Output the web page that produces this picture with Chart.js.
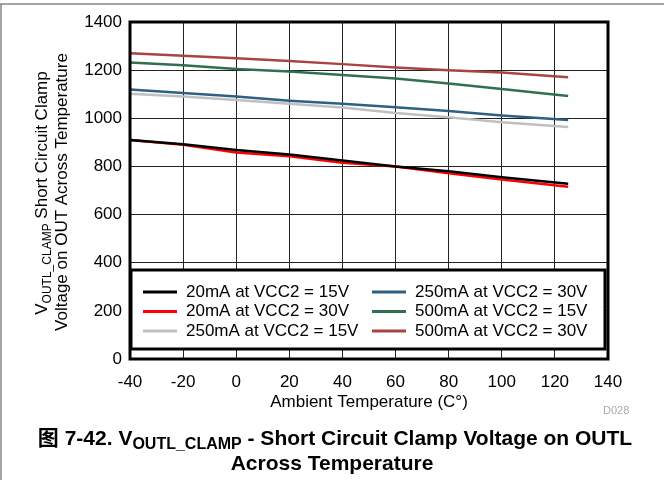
<!DOCTYPE html>
<html>
<head>
<meta charset="utf-8">
<script src="https://cdn.jsdelivr.net/npm/chart.js@4"></script>
<style>
body { margin: 0; background: #fff; }
</style>
</head>
<body>
<canvas id="c" width="664" height="480"></canvas>
<script>
// temperatures (C) and clamp voltage (mV)
const temps = [-40, -20, 0, 20, 40, 60, 80, 100, 125];
const ma20v15 = [910, 892, 868, 850, 825, 800, 780, 755, 728];
const ma20v30 = [910, 890, 858, 842, 815, 800, 772, 746, 716];
const ma250v15 = [1102, 1090, 1076, 1060, 1045, 1022, 1004, 984, 964];
const ma250v30 = [1120, 1105, 1090, 1073, 1060, 1046, 1030, 1012, 993];
const ma500v15 = [1232, 1220, 1205, 1194, 1180, 1165, 1145, 1122, 1093];
const ma500v30 = [1270, 1260, 1249, 1238, 1225, 1211, 1200, 1190, 1170];
const seriesLabels = [
  '20mA at VCC2 = 15V', '20mA at VCC2 = 30V', '250mA at VCC2 = 15V',
  '250mA at VCC2 = 30V', '500mA at VCC2 = 15V', '500mA at VCC2 = 30V'
];
const seriesValues = [ma20v15, ma20v30, ma250v15, ma250v30, ma500v15, ma500v30];
const colors = ['#000000', '#ff0000', '#c0c0c0', '#2e6083', '#2f7050', '#a84444'];

const FONT = '"Liberation Sans", Arial, "Noto Sans CJK SC", sans-serif';
Chart.defaults.font.family = FONT;
Chart.defaults.color = '#000';

// draws pieces of text (with subscripts) side by side, centred on cx
function richText(ctx, parts, cx, y) {
  let total = 0;
  parts.forEach(p => { ctx.font = p.font; total += ctx.measureText(p.t).width; });
  let x = cx - total / 2;
  parts.forEach(p => {
    ctx.font = p.font;
    ctx.fillText(p.t, x, y + (p.dy || 0));
    x += ctx.measureText(p.t).width;
  });
}

const extras = {
  id: 'extras',
  beforeDraw(chart) {
    const ctx = chart.ctx;
    ctx.save();
    ctx.strokeStyle = '#888';
    ctx.lineWidth = 1.5;
    ctx.beginPath();
    ctx.moveTo(0, 4); ctx.lineTo(664, 4);
    ctx.moveTo(1, 4); ctx.lineTo(1, 480);
    ctx.stroke();
    ctx.restore();
  },
  afterDatasetsDraw(chart) {
    const ctx = chart.ctx;
    const a = chart.chartArea;
    ctx.save();
    // legend box inside the plot
    const lx = a.left + 1, ly = a.bottom - 89, lw = a.right - 3 - lx, lh = 79;
    ctx.fillStyle = '#fff';
    ctx.fillRect(lx, ly, lw, lh);
    ctx.strokeStyle = '#000';
    ctx.lineWidth = 3;
    ctx.strokeRect(lx, ly, lw, lh);
    ctx.font = '17px ' + FONT;
    ctx.textBaseline = 'middle';
    ctx.textAlign = 'left';
    chart.data.datasets.forEach((ds, i) => {
      const col = Math.floor(i / 3), row = i % 3;
      const x0 = lx + 12 + col * 229;
      const y0 = ly + 22 + row * 19.5;
      ctx.strokeStyle = ds.borderColor;
      ctx.lineWidth = 3;
      ctx.beginPath();
      ctx.moveTo(x0, y0); ctx.lineTo(x0 + 34, y0);
      ctx.stroke();
      ctx.fillStyle = '#000';
      ctx.fillText(ds.label, x0 + 43, y0);
    });
    // plot frame
    ctx.strokeStyle = '#000';
    ctx.lineWidth = 3;
    ctx.strokeRect(a.left, a.top, a.right - a.left, a.bottom - a.top);
    ctx.restore();
  },
  afterDraw(chart) {
    const ctx = chart.ctx;
    const a = chart.chartArea;
    ctx.save();
    ctx.fillStyle = '#000';
    ctx.textAlign = 'left';
    ctx.textBaseline = 'alphabetic';
    // y axis title, two rotated lines
    const f17 = '17px ' + FONT, f12 = '12px ' + FONT;
    ctx.save();
    ctx.translate(47, 193);
    ctx.rotate(-Math.PI / 2);
    richText(ctx, [
      { t: 'V', font: f17 },
      { t: 'OUTL_CLAMP', font: f12, dy: 4 },
      { t: ' Short Circuit Clamp', font: f17 }
    ], 0, 0);
    ctx.restore();
    ctx.save();
    ctx.translate(67, 192);
    ctx.rotate(-Math.PI / 2);
    richText(ctx, [{ t: 'Voltage on OUT Across Temperature', font: f17 }], 0, 0);
    ctx.restore();
    // x axis title
    ctx.textBaseline = 'middle';
    richText(ctx, [{ t: 'Ambient Temperature (C\u00b0)', font: f17 }], (a.left + a.right) / 2, 402);
    ctx.fillStyle = '#aaa';
    ctx.font = '11px ' + FONT;
    ctx.fillText('D028', 603, 411);
    // caption
    ctx.fillStyle = '#000';
    ctx.textBaseline = 'alphabetic';
    const b21 = 'bold 21px ' + FONT, b16 = 'bold 16px ' + FONT;
    richText(ctx, [
      { t: '\u56fe 7-42. V', font: b21 },
      { t: 'OUTL_CLAMP', font: b16, dy: 4 },
      { t: ' - Short Circuit Clamp Voltage on OUTL', font: b21 }
    ], 335, 445);
    richText(ctx, [{ t: 'Across Temperature', font: b21 }], 332, 470);
    ctx.restore();
  }
};

new Chart(document.getElementById('c'), {
  type: 'line',
  data: {
    datasets: seriesValues.map((vals, i) => ({
      label: seriesLabels[i],
      data: temps.map((t, j) => ({ x: t, y: vals[j] })),
      borderColor: colors[i],
      borderWidth: 2.5,
      pointRadius: 0,
      tension: 0,
      fill: false
    }))
  },
  options: {
    responsive: false,
    animation: false,
    devicePixelRatio: 1,
    layout: { padding: { left: 0, top: 22, right: 56, bottom: 0 } },
    plugins: { legend: { display: false }, tooltip: { enabled: false } },
    scales: {
      x: {
        type: 'linear',
        min: -40,
        max: 140,
        afterFit(scale) { scale.height = 121; },
        border: { display: false },
        grid: { color: '#222', lineWidth: 1, drawTicks: false },
        ticks: { stepSize: 20, font: { size: 17 }, padding: 13, color: '#000', callback: v => String(v) }
      },
      y: {
        min: 0,
        max: 1400,
        afterFit(scale) { scale.width = 130; },
        border: { display: false },
        grid: { color: '#222', lineWidth: 1, drawTicks: false },
        ticks: { stepSize: 200, font: { size: 17 }, padding: 8, color: '#000', callback: v => String(v) }
      }
    }
  },
  plugins: [extras]
});
</script>
</body>
</html>
